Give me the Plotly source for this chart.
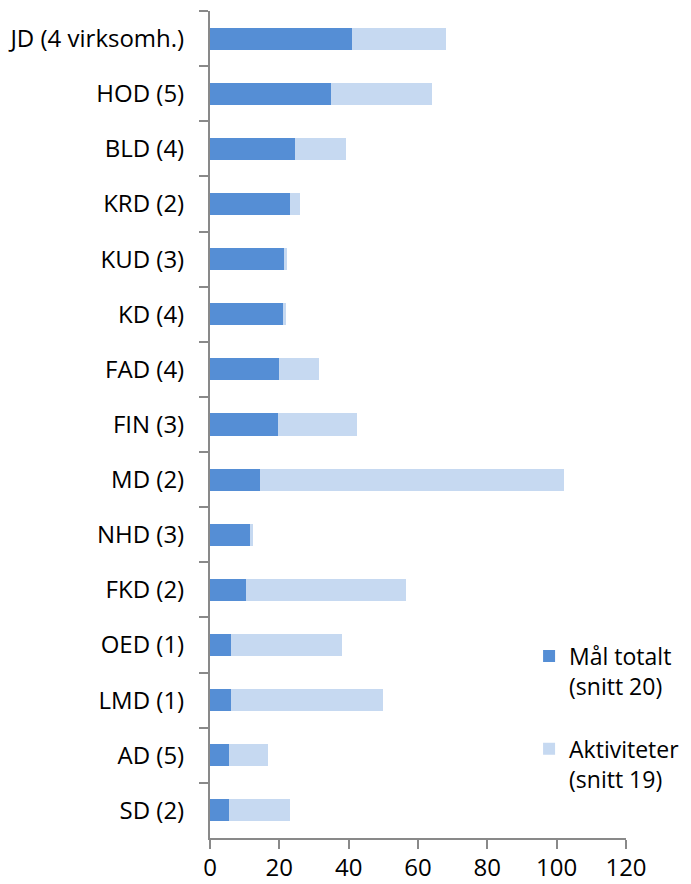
import plotly.graph_objects as go

categories = ["JD (4 virksomh.)", "HOD (5)", "BLD (4)", "KRD (2)", "KUD (3)", "KD (4)",
              "FAD (4)", "FIN (3)", "MD (2)", "NHD (3)", "FKD (2)", "OED (1)",
              "LMD (1)", "AD (5)", "SD (2)"]
maal_totalt = [41, 35, 24.5, 23, 21.3, 21.2, 19.9, 19.6, 14.4, 11.5, 10.4, 6, 6, 5.6, 5.6]
aktiviteter = [27, 29, 14.8, 3, 1, 0.8, 11.6, 22.7, 87.7, 0.8, 46.1, 32.1, 44, 11.2, 17.5]
x_ticks = [0, 20, 40, 60, 80, 100, 120]

FONT = "Open Sans"
FS = 24
AXIS = "#898989"

fig = go.Figure()
fig.add_trace(go.Bar(
    y=categories, x=maal_totalt, orientation="h",
    name="Mål totalt<br>(snitt 20)", marker=dict(color="#558ED5", line=dict(width=0)),
    legendgroup="a"))
fig.add_trace(go.Bar(
    y=categories, x=aktiviteter, orientation="h",
    name="Aktiviteter<br>(snitt 19)", marker=dict(color="#C6D9F1", line=dict(width=0)),
    legendgroup="b"))

# page body has an 8px default margin; size the figure to fit the 691x884 window
fig.update_layout(
    width=683, height=876,
    margin=dict(l=202, r=65, t=3, b=46, autoexpand=False),
    barmode="stack", bargap=0.6,
    plot_bgcolor="white", paper_bgcolor="white",
    font=dict(family=FONT, size=FS, color="#000000"),
    showlegend=True,
    legend=dict(x=0.767, y=0.246, xanchor="left", yanchor="top",
                valign="top", tracegroupgap=30, traceorder="grouped",
                bgcolor="rgba(0,0,0,0)", font=dict(family=FONT, size=23)),
    xaxis=dict(range=[0, 120], tickvals=x_ticks, ticks="outside", ticklen=9,
               tickcolor=AXIS, tickwidth=2, showline=True, linecolor=AXIS,
               linewidth=2, showgrid=False, zeroline=False, automargin=False,
               ticklabelstandoff=-2,
               tickfont=dict(family=FONT, size=FS)),
    yaxis=dict(categoryorder="array", categoryarray=categories, autorange="reversed",
               ticks="outside", ticklen=9, tickcolor=AXIS, tickwidth=2,
               tickson="boundaries", showline=True, linecolor=AXIS, linewidth=2,
               showgrid=False, zeroline=False, automargin=False,
               ticklabelstandoff=19,
               tickfont=dict(family=FONT, size=FS)),
)

fig.write_html("out.html")
